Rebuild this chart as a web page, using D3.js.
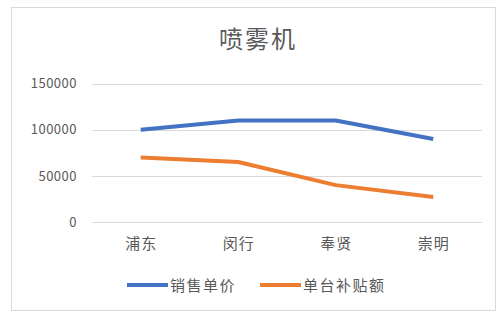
<!DOCTYPE html>
<html>
<head>
<meta charset="utf-8">
<script src="https://cdn.jsdelivr.net/npm/d3@7"></script>
<style>
  body { margin: 0; background: #fff; }
  text { font-family: "Noto Sans CJK SC", "Noto Sans", sans-serif; }
</style>
</head>
<body>
<div id="chart"></div>
<script>
// data
var categories = ["浦东", "闵行", "奉贤", "崇明"];
var unitPrice = [100000, 110000, 110000, 90000];
var subsidy = [70000, 65000, 40000, 27000];
var yTicks = [0, 50000, 100000, 150000];
var seriesNames = ["销售单价", "单台补贴额"];
var colors = ["#4472c4", "#ed7d31"];

var W = 501, H = 311;
var svg = d3.select("#chart").append("svg")
    .attr("width", W)
    .attr("height", H);

// chart frame
svg.append("rect")
    .attr("x", 11.5).attr("y", 7.5)
    .attr("width", 484).attr("height", 303)
    .attr("fill", "#fff")
    .attr("stroke", "#d9d9d9");

// title
svg.append("text")
    .attr("x", 258).attr("y", 48)
    .attr("text-anchor", "middle")
    .attr("font-size", 24)
    .attr("letter-spacing", 2)
    .attr("fill", "#595959")
    .text("喷雾机");

var plot = {left: 92, right: 482, top: 83.7, bottom: 222};

var x = d3.scalePoint()
    .domain(categories)
    .range([plot.left, plot.right])
    .padding(0.5);

var y = d3.scaleLinear()
    .domain([0, 150000])
    .range([plot.bottom, plot.top]);

// gridlines
svg.append("g")
  .selectAll("line")
  .data(yTicks)
  .enter().append("line")
    .attr("x1", plot.left).attr("x2", plot.right)
    .attr("y1", d => Math.round(y(d)) + 0.5)
    .attr("y2", d => Math.round(y(d)) + 0.5)
    .attr("stroke", "#d9d9d9");

// y axis labels
var yAxis = d3.axisLeft(y).tickValues(yTicks).tickSize(0).tickPadding(0)
    .tickFormat(d3.format("d"));
svg.append("g")
    .attr("transform", "translate(77,0)")
    .call(yAxis)
    .call(g => g.select(".domain").remove())
    .call(g => g.selectAll("text")
        .attr("font-size", 13)
        .attr("letter-spacing", 0.5)
        .attr("font-family", "Noto Sans, sans-serif")
        .attr("fill", "#595959"));

// x axis labels
var xAxis = d3.axisBottom(x).tickSize(0).tickPadding(0);
svg.append("g")
    .attr("transform", "translate(0,238)")
    .call(xAxis)
    .call(g => g.select(".domain").remove())
    .call(g => g.selectAll("text")
        .attr("font-size", 15)
        .attr("letter-spacing", 1)
        .attr("font-family", "Noto Sans CJK SC, sans-serif")
        .attr("fill", "#595959"));

// lines
var line = d3.line()
    .x((d, i) => x(categories[i]))
    .y(d => y(d));

[unitPrice, subsidy].forEach(function(series, i) {
    svg.append("path")
        .datum(series)
        .attr("d", line)
        .attr("fill", "none")
        .attr("stroke", colors[i])
        .attr("stroke-width", 4)
        .attr("stroke-linejoin", "round");
});

// legend
var legendX = [127, 260];
seriesNames.forEach(function(name, i) {
    var g = svg.append("g").attr("transform", "translate(" + legendX[i] + ",285)");
    g.append("line")
        .attr("x1", 0).attr("x2", 41)
        .attr("stroke", colors[i])
        .attr("stroke-width", 4);
    g.append("text")
        .attr("x", 43).attr("y", 5.5)
        .attr("font-size", 15)
        .attr("letter-spacing", 1.5)
        .attr("fill", "#595959")
        .text(name);
});
</script>
</body>
</html>
